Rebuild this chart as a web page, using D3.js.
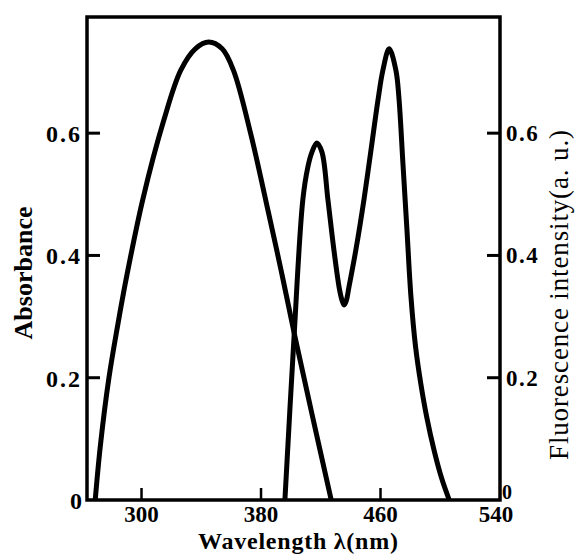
<!DOCTYPE html>
<html lang="en">
<head>
<meta charset="UTF-8">
<script src="https://d3js.org/d3.v7.min.js"></script>
<title>Absorbance and fluorescence spectra</title>
<style>
body { margin: 0; background: #fff; }
svg { display: block; }
.tick-label { font-family: "Liberation Serif", "Times New Roman", serif; font-weight: bold; fill: #000; }
.axis-title { font-family: "Liberation Serif", "Times New Roman", serif; fill: #000; }
</style>
</head>
<body>
<svg id="chart"></svg>
<script>
// wavelength (nm) and absorbance
var absWl  = [269, 272.5, 278.2, 284, 290, 300.8, 314.9, 326.3, 336, 345, 354, 361.5, 373, 385, 393.5, 402.3, 414, 427];
var absVal = [0, 0.09, 0.2, 0.285, 0.365, 0.491, 0.621, 0.703, 0.738, 0.749, 0.738, 0.703, 0.6, 0.47, 0.375, 0.272, 0.142, 0];

// fluorescence emission (a. u.)
var fluWl  = [396, 402, 408, 411.4, 414.1, 417.4, 420.8, 424.8, 428.8, 432.5, 434.3, 435.7, 437.1, 439, 443.5, 448.9, 453.6, 458.3, 461.6, 465.8, 470.3, 472.3, 475, 477.7, 480.4, 483.5, 487, 491, 496, 501, 506];
var fluVal = [0, 0.262, 0.491, 0.545, 0.569, 0.584, 0.569, 0.491, 0.409, 0.345, 0.326, 0.319, 0.326, 0.35, 0.409, 0.491, 0.572, 0.654, 0.703, 0.738, 0.703, 0.659, 0.551, 0.442, 0.332, 0.25, 0.19, 0.135, 0.08, 0.035, 0];

var xTicks = [300, 380, 460, 540];
var yTicks = [0, 0.2, 0.4, 0.6];
var yTickLabels = ["0", "0.2", "0.4", "0.6"];

var W = 581, H = 554;
var svg = d3.select("#chart").attr("width", W).attr("height", H);

var x = d3.scaleLinear().domain([263.5, 540]).range([87, 500]);
var y = d3.scaleLinear().domain([0, 0.79]).range([500, 17]);   // absorbance
var y2 = d3.scaleLinear().domain([0, 0.79]).range([500, 17]);  // fluorescence

var x0 = x.range()[0], x1 = x.range()[1];
var yb = y.range()[0], yt = y.range()[1];

// frame
svg.append("rect")
    .attr("x", x0).attr("y", yt)
    .attr("width", x1 - x0).attr("height", yb - yt)
    .attr("fill", "none").attr("stroke", "#000").attr("stroke-width", 3.5);

// inward ticks
svg.selectAll(".ytick-l").data(yTicks.filter(function(d){ return d > 0; }))
  .enter().append("line")
    .attr("x1", x0).attr("x2", x0 + 13)
    .attr("y1", function(d){ return y(d); }).attr("y2", function(d){ return y(d); })
    .attr("stroke", "#000").attr("stroke-width", 3);

svg.selectAll(".ytick-r").data(yTicks.filter(function(d){ return d > 0; }))
  .enter().append("line")
    .attr("x1", x1).attr("x2", x1 - 13)
    .attr("y1", function(d){ return y2(d); }).attr("y2", function(d){ return y2(d); })
    .attr("stroke", "#000").attr("stroke-width", 3);

svg.selectAll(".xtick").data(xTicks.filter(function(d){ return d < 540; }))
  .enter().append("line")
    .attr("x1", function(d){ return x(d); }).attr("x2", function(d){ return x(d); })
    .attr("y1", yb).attr("y2", yb - 12)
    .attr("stroke", "#000").attr("stroke-width", 2.5);

// tick labels
svg.selectAll(".xlab").data(xTicks)
  .enter().append("text")
    .attr("class", "tick-label")
    .attr("x", function(d){ return d == 540 ? x(d) - 4 : x(d); })
    .attr("y", 522)
    .attr("text-anchor", "middle")
    .style("font-size", "23px")
    .text(function(d){ return d; });

svg.selectAll(".ylab-l").data(yTicks)
  .enter().append("text")
    .attr("class", "tick-label")
    .attr("x", 82)
    .attr("y", function(d){ return y(d) + 9; })
    .attr("text-anchor", "end")
    .style("font-size", "24px")
    .style("letter-spacing", function(d){ return d > 0 ? "2px" : "0px"; })
    .text(function(d, i){ return yTickLabels[i]; });

svg.selectAll(".ylab-r").data(yTicks)
  .enter().append("text")
    .attr("class", "tick-label")
    .attr("x", function(d){ return d > 0 ? x1 + 6 : x1 + 2; })
    .attr("y", function(d){ return d > 0 ? y2(d) + 8 : y2(d) - 1; })
    .style("font-size", function(d){ return d > 0 ? "23px" : "20px"; })
    .style("letter-spacing", function(d){ return d > 0 ? "1.5px" : "0px"; })
    .text(function(d, i){ return yTickLabels[i]; });

// axis titles
svg.append("text")
    .attr("class", "axis-title")
    .attr("x", 298).attr("y", 549)
    .attr("text-anchor", "middle")
    .attr("textLength", 200)
    .style("font-size", "24px").style("font-weight", "bold")
    .text("Wavelength \u03bb(nm)");

svg.append("text")
    .attr("class", "axis-title")
    .attr("transform", "translate(32,273) rotate(-90)")
    .attr("text-anchor", "middle")
    .attr("textLength", 133)
    .style("font-size", "26px").style("font-weight", "bold")
    .text("Absorbance");

svg.append("text")
    .attr("class", "axis-title")
    .attr("transform", "translate(568,295) rotate(-90)")
    .attr("text-anchor", "middle")
    .attr("textLength", 330)
    .style("font-size", "27px")
    .text("Fluorescence intensity(a. u.)");

// curves
var absData = absWl.map(function(d, i){ return {wl: d, v: absVal[i]}; });
var fluData = fluWl.map(function(d, i){ return {wl: d, v: fluVal[i]}; });

svg.append("path")
    .datum(absData)
    .attr("fill", "none")
    .attr("stroke", "#000")
    .attr("stroke-width", 5)
    .attr("stroke-linejoin", "round")
    .attr("d", d3.line()
        .curve(d3.curveCatmullRom.alpha(0.5))
        .x(function(d){ return x(d.wl); })
        .y(function(d){ return y(d.v); }));

svg.append("path")
    .datum(fluData)
    .attr("fill", "none")
    .attr("stroke", "#000")
    .attr("stroke-width", 5)
    .attr("stroke-linejoin", "round")
    .attr("d", d3.line()
        .curve(d3.curveCatmullRom.alpha(0.5))
        .x(function(d){ return x(d.wl); })
        .y(function(d){ return y2(d.v); }));
</script>
</body>
</html>
